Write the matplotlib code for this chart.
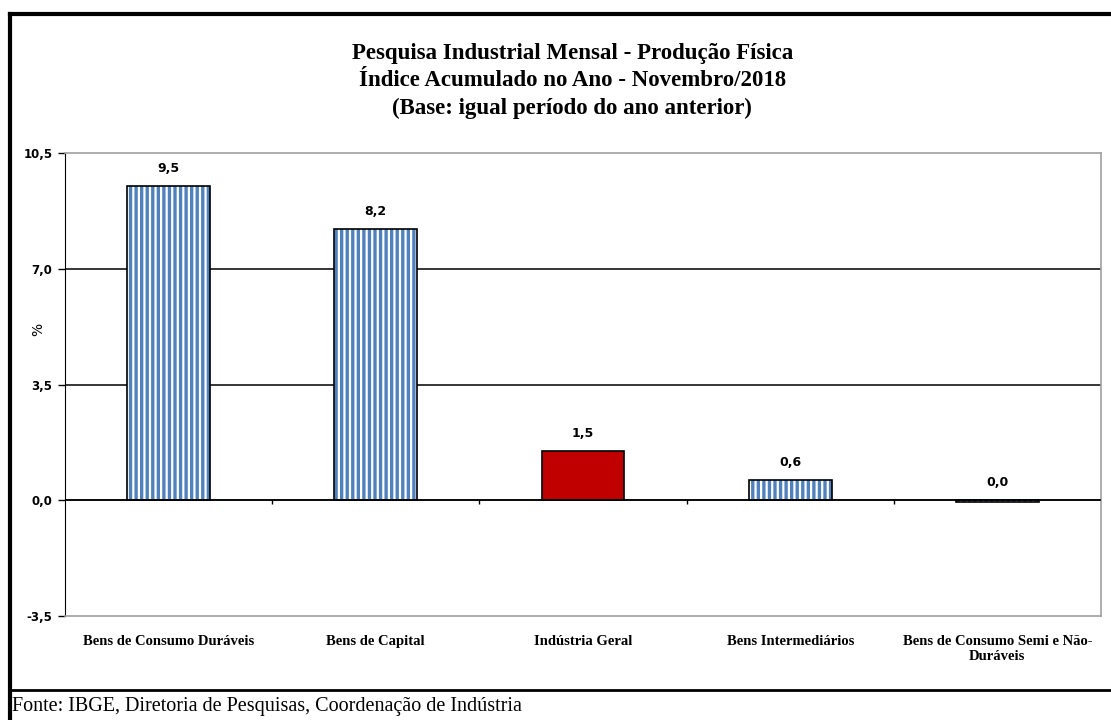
import numpy as np
import matplotlib
matplotlib.use('Agg')
import matplotlib.pyplot as plt
from matplotlib.lines import Line2D

plt.rcParams['hatch.linewidth'] = 2.4

# dados
categorias = ['Bens de Consumo Duráveis', 'Bens de Capital', 'Indústria Geral',
              'Bens Intermediários', 'Bens de Consumo Semi e Não-\nDuráveis']
valores = [9.5, 8.2, 1.5, 0.6, -0.04]
destaque = [False, False, True, False, False]
yticks = [-3.5, 0.0, 3.5, 7.0, 10.5]

titulo = ('Pesquisa Industrial Mensal - Produção Física\n'
          'Índice Acumulado no Ano - Novembro/2018\n'
          '(Base: igual período do ano anterior)')
fonte = 'Fonte: IBGE, Diretoria de Pesquisas, Coordenação de Indústria'

azul = '#4f81bd'
vermelho = '#c00000'
serif = ['Liberation Serif', 'DejaVu Serif']
sans = ['DejaVu Sans']

fig = plt.figure(figsize=(11.11, 7.2), dpi=100)
ax = fig.add_axes([0.0585, 0.1444, 0.9325, 0.6431])

x = np.arange(len(categorias))
largura = 0.4
for xi, v, d in zip(x, valores, destaque):
    if d:
        ax.bar(xi, v, largura, color=vermelho, edgecolor='black', linewidth=1.2, zorder=3)
    else:
        ax.bar(xi, v, largura, color='white', edgecolor=azul, hatch='|||', linewidth=0, zorder=3)
        ax.bar(xi, v, largura, fill=False, edgecolor='black', linewidth=1.2, zorder=4)
    rotulo = f'{round(v, 1) + 0.0:.1f}'.replace('.', ',')
    ax.annotate(rotulo, (xi, max(v, 0)), xytext=(0, 8), textcoords='offset points',
                ha='center', va='bottom', fontsize=9, fontweight='bold', family=sans)

ax.set_xlim(-0.5, len(categorias) - 0.5)
ax.set_ylim(yticks[0], yticks[-1])
ax.set_yticks(yticks)
ax.set_yticklabels([f'{t:.1f}'.replace('.', ',') for t in yticks],
                   fontsize=8.5, fontweight='bold', family=sans)
ax.tick_params(axis='y', length=5, width=1, pad=4)

for t in yticks[1:-1]:
    ax.axhline(t, color='black', linewidth=1.1, zorder=1)
ax.axhline(0, color='black', linewidth=1.1, zorder=5)
limites = x[:-1] + 0.5
ax.vlines(limites, -0.12, 0, color='black', linewidth=1, zorder=5)

ax.set_xticks(x)
ax.set_xticklabels(categorias, fontsize=10.5, fontweight='bold', family=serif)
ax.tick_params(axis='x', length=0, pad=14)

for lado in ['top', 'right', 'bottom']:
    ax.spines[lado].set_color('#a0a0a0')
    ax.spines[lado].set_linewidth(1.2)
ax.spines['left'].set_color('black')

ax.set_ylabel('%', fontsize=10, family=sans, rotation=90)
ax.yaxis.set_label_coords(-0.019, 0.618)

fig.text(0.515, 0.94, titulo, ha='center', va='top', fontsize=16.5,
         fontweight='bold', family=serif, linespacing=1.38)
fig.text(0.011, 0.0194, fonte, ha='left', va='center', fontsize=14.5, family=serif)

# moldura externa
fig.add_artist(Line2D([0.009, 1.0], [0.981, 0.981], color='black', linewidth=3))
fig.add_artist(Line2D([0.009, 0.009], [0.0, 0.981], color='black', linewidth=3))
fig.add_artist(Line2D([0.009, 1.0], [0.041, 0.041], color='black', linewidth=2))

fig.savefig('out.png', dpi=100)
